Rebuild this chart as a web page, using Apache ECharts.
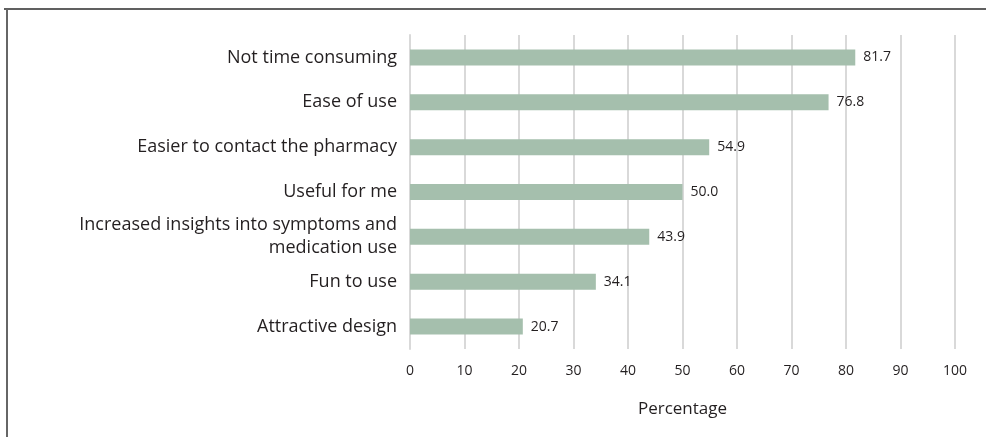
<!DOCTYPE html>
<html>
<head>
<meta charset="utf-8">
<script src="https://cdn.jsdelivr.net/npm/echarts@6/dist/echarts.min.js"></script>
<style>
  html, body { margin: 0; padding: 0; background: #fff; }
  #chart { width: 986px; height: 437px; }
</style>
</head>
<body>
<div id="chart"></div>
<script>
// Reasons reported for liking the app, share of respondents (%)
const categories = [
  'Attractive design',
  'Fun to use',
  'Increased insights into symptoms and\nmedication use',
  'Useful for me',
  'Easier to contact the pharmacy',
  'Ease of use',
  'Not time consuming'
];
const percentages = [20.7, 34.1, 43.9, 50.0, 54.9, 76.8, 81.7];
const xTicks = { min: 0, max: 100, step: 10 };
const axisTitle = 'Percentage';

const FONT = 'Open Sans';
const TEXT = '#231f20';

const chart = echarts.init(document.getElementById('chart'), null, { renderer: 'canvas' });
chart.setOption({
  animation: false,
  backgroundColor: '#ffffff',
  textStyle: { fontFamily: FONT },
  graphic: [
    { type: 'line', shape: { x1: 4, y1: 9, x2: 986, y2: 9 }, style: { stroke: '#2b2b2b', lineWidth: 1.5 } },
    { type: 'line', shape: { x1: 7, y1: 9, x2: 7, y2: 437 }, style: { stroke: '#666666', lineWidth: 2 } }
  ],
  grid: { left: 410, right: 31, top: 35, bottom: 88, containLabel: false },
  xAxis: {
    type: 'value',
    min: xTicks.min,
    max: xTicks.max,
    interval: xTicks.step,
    name: axisTitle,
    nameLocation: 'middle',
    nameGap: 52,
    nameTextStyle: { color: TEXT, fontSize: 17, fontFamily: FONT },
    axisLine: { show: false },
    axisTick: { show: false },
    axisLabel: { color: TEXT, fontSize: 14, margin: 15, fontFamily: FONT },
    splitLine: { show: true, lineStyle: { color: '#d9d9d9', width: 2 } }
  },
  yAxis: {
    type: 'category',
    data: categories,
    axisLine: { show: true, lineStyle: { color: '#d9d9d9', width: 2 } },
    axisTick: { show: false },
    axisLabel: { color: TEXT, fontSize: 18, margin: 13, align: 'right', lineHeight: 23, fontFamily: FONT }
  },
  series: [{
    type: 'bar',
    data: percentages,
    barWidth: 16,
    itemStyle: { color: '#a5bfad' },
    label: {
      show: true,
      position: 'right',
      distance: 8,
      color: TEXT,
      fontSize: 14,
      fontFamily: FONT,
      formatter: p => p.value.toFixed(1)
    }
  }]
});
</script>
</body>
</html>
